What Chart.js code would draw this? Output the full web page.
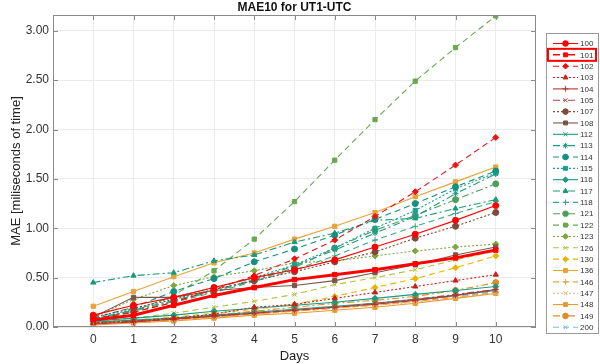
<!DOCTYPE html>
<html>
<head>
<meta charset="utf-8">
<script src="https://cdn.jsdelivr.net/npm/chart.js@4.4.1/dist/chart.umd.min.js"></script>
<style>
  html, body { margin: 0; padding: 0; background: #fff; }
  #c { display: block; }
</style>
</head>
<body>
<canvas id="c" width="600" height="364" style="width:600px;height:364px"></canvas>
<script>
// ========== data ==========
const days = [0, 1, 2, 3, 4, 5, 6, 7, 8, 9, 10];
const yTicks = [0, 0.5, 1, 1.5, 2, 2.5, 3];

const s100 = [0.12, 0.22, 0.30, 0.40, 0.50, 0.58, 0.68, 0.81, 0.94, 1.08, 1.23];
const s101 = [0.07, 0.12, 0.22, 0.32, 0.40, 0.48, 0.53, 0.58, 0.64, 0.70, 0.78];
const s102 = [0.08, 0.15, 0.25, 0.38, 0.52, 0.69, 0.88, 1.12, 1.37, 1.64, 1.92];
const s103 = [0.04, 0.06, 0.09, 0.13, 0.20, 0.23, 0.29, 0.35, 0.41, 0.47, 0.53];
const s104 = [0.03, 0.05, 0.08, 0.11, 0.14, 0.17, 0.20, 0.23, 0.27, 0.32, 0.38];
const s105 = [0.04, 0.06, 0.08, 0.11, 0.14, 0.17, 0.20, 0.24, 0.28, 0.33, 0.38];
const s107 = [0.10, 0.19, 0.28, 0.38, 0.47, 0.56, 0.66, 0.76, 0.90, 1.02, 1.16];
const s108 = [0.10, 0.30, 0.30, 0.37, 0.40, 0.42, 0.47, 0.55, 0.63, 0.73, 0.81];
const s112 = [0.05, 0.07, 0.09, 0.12, 0.15, 0.18, 0.21, 0.24, 0.28, 0.32, 0.37];
const s113 = [0.08, 0.17, 0.27, 0.37, 0.48, 0.62, 0.78, 0.95, 1.12, 1.35, 1.55];
const s114 = [0.09, 0.20, 0.36, 0.49, 0.66, 0.79, 0.93, 1.09, 1.25, 1.42, 1.58];
const s115 = [0.08, 0.18, 0.30, 0.40, 0.50, 0.63, 0.80, 1.00, 1.18, 1.40, 1.56];
const s116 = [0.06, 0.09, 0.12, 0.16, 0.19, 0.22, 0.25, 0.29, 0.33, 0.37, 0.41];
const s117 = [0.45, 0.52, 0.55, 0.67, 0.73, 0.86, 0.95, 1.08, 1.10, 1.20, 1.29];
const s118 = [0.07, 0.15, 0.25, 0.35, 0.46, 0.58, 0.72, 0.88, 1.02, 1.15, 1.27];
const s121 = [0.08, 0.16, 0.26, 0.36, 0.47, 0.60, 0.80, 0.98, 1.13, 1.29, 1.45];
const s122 = [0.08, 0.16, 0.32, 0.57, 0.89, 1.27, 1.69, 2.10, 2.49, 2.83, 3.15];
const s123 = [0.10, 0.28, 0.42, 0.51, 0.57, 0.65, 0.67, 0.72, 0.77, 0.81, 0.84];
const s126 = [0.05, 0.09, 0.14, 0.20, 0.26, 0.33, 0.43, 0.50, 0.58, 0.68, 0.77];
const s130 = [0.04, 0.07, 0.10, 0.14, 0.18, 0.23, 0.31, 0.40, 0.49, 0.60, 0.72];
const s136 = [0.21, 0.36, 0.51, 0.65, 0.75, 0.89, 1.02, 1.16, 1.32, 1.47, 1.62];
const s146 = [0.03, 0.05, 0.07, 0.10, 0.13, 0.16, 0.19, 0.22, 0.26, 0.30, 0.35];
const s147 = [0.03, 0.05, 0.07, 0.10, 0.13, 0.16, 0.19, 0.22, 0.25, 0.30, 0.34];
const s148 = [0.02, 0.04, 0.06, 0.09, 0.12, 0.14, 0.17, 0.20, 0.24, 0.29, 0.34];
const s149 = [0.04, 0.06, 0.08, 0.12, 0.16, 0.20, 0.24, 0.27, 0.31, 0.37, 0.45];
const s200 = [0.04, 0.06, 0.08, 0.11, 0.14, 0.17, 0.20, 0.23, 0.27, 0.31, 0.36];

// ========== styles ==========
const SOLID = [], DASH = [6, 4], DOT = [2, 2], DASHDOT = [7, 3, 2, 3];

const series = [
  ["100", s100, "#ff0000", SOLID, "circle"],
  ["101", s101, "#ff0000", DASHDOT, "rect"],
  ["102", s102, "#ee1111", DASH, "rectRot"],
  ["103", s103, "#c8201c", DOT, "triangle"],
  ["104", s104, "#b8342e", SOLID, "cross"],
  ["105", s105, "#a84a40", DASHDOT, "crossRot"],
  ["107", s107, "#7d4a3c", DOT, "circle"],
  ["108", s108, "#7a5648", SOLID, "rect"],
  ["112", s112, "#1f9a86", SOLID, "crossRot"],
  ["113", s113, "#1f9a86", DASHDOT, "star"],
  ["114", s114, "#14917e", DASH, "circle"],
  ["115", s115, "#1aa08c", DOT, "rect"],
  ["116", s116, "#1a9a80", SOLID, "rectRot"],
  ["117", s117, "#1a9a7a", DASHDOT, "triangle"],
  ["118", s118, "#3aa886", DASH, "cross"],
  ["121", s121, "#4e9e5a", DASHDOT, "circle"],
  ["122", s122, "#6aa84f", DASH, "rect"],
  ["123", s123, "#7aa83c", DOT, "rectRot"],
  ["126", s126, "#b4c040", DASH, "crossRot"],
  ["130", s130, "#e8b400", DASH, "rectRot"],
  ["136", s136, "#e8a23a", SOLID, "rect"],
  ["146", s146, "#f0a040", DASH, "cross"],
  ["147", s147, "#f0b070", DOT, "crossRot"],
  ["148", s148, "#e89a2c", SOLID, "rect"],
  ["149", s149, "#d98e26", DASHDOT, "circle"],
  ["200", s200, "#6cc4e4", DASH, "crossRot"],
];

const HIGHLIGHT = "101";
const FONT = "'Liberation Sans', Arial, sans-serif";

const datasets = series.map(([name, vals, color, dash, marker]) => {
  const hl = name === HIGHLIGHT;
  return {
    label: name,
    data: days.map((d, i) => ({ x: d, y: vals[i] })),
    borderColor: color,
    backgroundColor: color,
    borderWidth: hl ? 3 : 1.1,
    borderDash: hl ? SOLID : dash,
    pointStyle: marker,
    pointRadius: hl ? 3.2 : 3,
    pointBorderWidth: 1,
    pointBorderColor: color,
    pointBackgroundColor: color,
    legendDash: dash,
    fill: false,
    tension: 0,
  };
});

// ========== frame, title, legend ==========
const framePlugin = {
  id: "frame",
  afterDraw(chart) {
    const { ctx, chartArea: a, scales } = chart;
    ctx.save();
    // axes box
    ctx.strokeStyle = "#8a8a8a";
    ctx.lineWidth = 1;
    ctx.setLineDash([]);
    ctx.strokeRect(a.left + 0.5, a.top + 0.5, a.right - a.left - 1, a.bottom - a.top - 1);
    // inward ticks
    ctx.beginPath();
    days.forEach((d) => {
      const x = Math.round(scales.x.getPixelForValue(d)) + 0.5;
      ctx.moveTo(x, a.bottom); ctx.lineTo(x, a.bottom - 5);
      ctx.moveTo(x, a.top); ctx.lineTo(x, a.top + 5);
    });
    yTicks.forEach((v) => {
      const y = Math.round(scales.y.getPixelForValue(v)) + 0.5;
      ctx.moveTo(a.left, y); ctx.lineTo(a.left + 5, y);
      ctx.moveTo(a.right, y); ctx.lineTo(a.right - 5, y);
    });
    ctx.stroke();

    // title
    ctx.fillStyle = "#111";
    ctx.font = "bold 12px " + FONT;
    ctx.textAlign = "center";
    ctx.textBaseline = "middle";
    ctx.fillText("MAE10 for UT1-UTC", (a.left + a.right) / 2, 8);

    // legend
    const bx = 546.5, by = 33.5, bw = 52, bh = 300;
    ctx.fillStyle = "#fff";
    ctx.fillRect(bx, by, bw, bh);
    ctx.strokeStyle = "#9a9a9a";
    ctx.strokeRect(bx, by, bw, bh);
    ctx.font = "8px " + FONT;
    ctx.textAlign = "left";
    chart.data.datasets.forEach((ds, i) => {
      const y = 43.5 + i * 11.35;
      ctx.strokeStyle = ds.borderColor;
      ctx.fillStyle = ds.borderColor;
      ctx.lineWidth = ds.label === HIGHLIGHT ? 1.5 : 1.1;
      ctx.setLineDash(ds.legendDash);
      ctx.beginPath();
      ctx.moveTo(553, y); ctx.lineTo(578, y);
      ctx.stroke();
      ctx.setLineDash([]);
      ctx.lineWidth = 1;
      Chart.helpers.drawPoint(ctx, {
        pointStyle: ds.pointStyle, radius: 2.8, rotation: 0, borderWidth: 1,
      }, 565.5, y);
      ctx.fillStyle = "#333";
      ctx.fillText(ds.label, 580, y + 0.5);
      if (ds.label === HIGHLIGHT) {
        ctx.strokeStyle = "#ff0000";
        ctx.lineWidth = 2;
        ctx.strokeRect(548, y - 6, 48, 12);
      }
    });
    ctx.restore();
  },
};

// ========== chart ==========
const chart = new Chart(document.getElementById("c"), {
  type: "line",
  data: { datasets },
  options: {
    responsive: false,
    animation: false,
    devicePixelRatio: 1,
    layout: { padding: { top: 15, right: 64, left: 0, bottom: 0 } },
    plugins: {
      legend: { display: false },
      title: { display: false },
      tooltip: { enabled: false },
    },
    scales: {
      x: {
        type: "linear",
        min: -1,
        max: 11,
        afterFit: (s) => { s.height = 37; },
        afterBuildTicks: (s) => { s.ticks = days.map((d) => ({ value: d })); },
        ticks: {
          color: "#333",
          font: { family: FONT, size: 12 },
          padding: 5,
          maxRotation: 0,
        },
        grid: { color: "#ebebeb", drawTicks: false },
        border: { display: false },
        title: {
          display: true,
          text: "Days",
          color: "#222",
          font: { family: FONT, size: 13 },
          padding: { top: 2, bottom: 0 },
        },
      },
      y: {
        min: 0,
        max: 3.16,
        afterFit: (s) => { s.width = 53; },
        afterBuildTicks: (s) => { s.ticks = yTicks.map((v) => ({ value: v })); },
        ticks: {
          color: "#333",
          font: { family: FONT, size: 12 },
          padding: 4,
          callback: (v) => Number(v).toFixed(2),
        },
        grid: { color: "#ebebeb", drawTicks: false },
        border: { display: false },
        title: {
          display: true,
          text: "MAE [miliseconds of time]",
          color: "#222",
          font: { family: FONT, size: 13 },
          padding: { top: 9, bottom: 0 },
        },
      },
    },
  },
  plugins: [framePlugin],
});
</script>
</body>
</html>
